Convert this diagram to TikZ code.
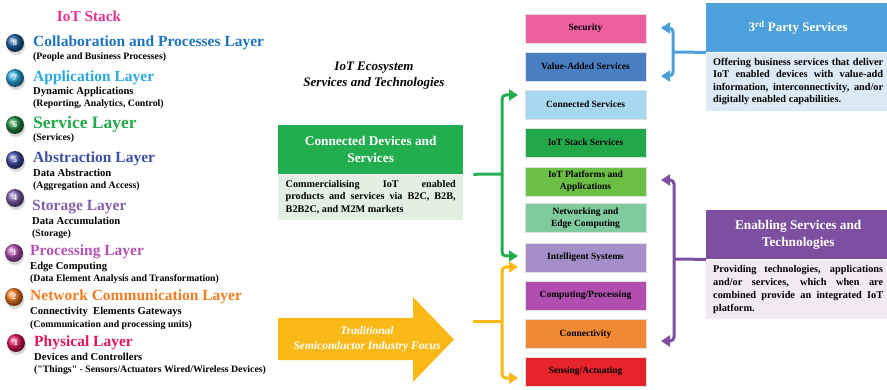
\documentclass[tikz,border=0pt]{standalone}
\usepackage{fontspec}
\setmainfont{Liberation Serif}[Ligatures=TeXOff]
\usetikzlibrary{arrows.meta,shadows,calc}
\hyphenpenalty=10000
\exhyphenpenalty=10000
\tolerance=3000
\definecolor{cStack}{HTML}{E4328D}
\definecolor{cL8}{HTML}{1E73BE}
\definecolor{cL7}{HTML}{2AA8E0}
\definecolor{cL6}{HTML}{23A84B}
\definecolor{cL5}{HTML}{3E4EA5}
\definecolor{cL4}{HTML}{8360AC}
\definecolor{cL3}{HTML}{B552B5}
\definecolor{cL2}{HTML}{F47B20}
\definecolor{cL1}{HTML}{E3165B}
\definecolor{cG}{HTML}{22AE4E}
\definecolor{cGl}{HTML}{E2F0E4}
\definecolor{cY}{HTML}{FBB917}
\definecolor{cB}{HTML}{4DA0DB}
\definecolor{cBl}{HTML}{DCEAF6}
\definecolor{cP}{HTML}{7D4FA0}
\definecolor{cPl}{HTML}{F2E9F2}
\definecolor{bSec}{HTML}{EC5FA0}
\definecolor{bVal}{HTML}{4A7EC2}
\definecolor{bCon}{HTML}{A8D8F0}
\definecolor{bStk}{HTML}{22A84A}
\definecolor{bPlt}{HTML}{6CBF45}
\definecolor{bNet}{HTML}{80CB9D}
\definecolor{bInt}{HTML}{A68FC8}
\definecolor{bCmp}{HTML}{B04FB0}
\definecolor{bCty}{HTML}{F08A35}
\definecolor{bSen}{HTML}{E8242B}
\begin{document}
\begin{tikzpicture}[x=1pt,y=-1pt,
  lt/.style={anchor=base west, inner sep=0pt, font=\bfseries\fontsize{15.5}{18}\selectfont},
  ls/.style={anchor=base west, inner sep=0pt, font=\bfseries\fontsize{10.6}{12}\selectfont},
  lp/.style={anchor=base west, inner sep=0pt, font=\bfseries\fontsize{9.8}{12}\selectfont},
  num/.style={circle, minimum size=18pt, inner sep=0pt, shading=ball, text=white,
    font=\bfseries\fontsize{8.5}{9}\selectfont,
    circular drop shadow={shadow xshift=0.6pt, shadow yshift=-2.2pt, opacity=0.3}},
  rb/.style={minimum width=121pt, minimum height=29pt, inner sep=1pt, align=center,
    font=\bfseries\fontsize{9.5}{11.7}\selectfont, draw=black!12, line width=0.8pt,
    drop shadow={shadow xshift=0.8pt, shadow yshift=-0.9pt, opacity=0.35}},
  brk/.style={line width=3pt, rounded corners=4pt},
  tip/.style={-{Triangle[length=9pt,width=11pt]}},
  hdr/.style={anchor=north west, minimum width=185pt, inner sep=0pt, text=white, align=center,
    font=\bfseries\fontsize{13.3}{16.5}\selectfont},
  bdy/.style={anchor=north west, text width=170pt, inner xsep=7.5pt, inner ysep=3pt, align=justify,
    font=\bfseries\fontsize{10.2}{12.8}\selectfont}
]
\useasboundingbox (0,0) rectangle (887,390);

% ---------------- IoT stack ----------------
\node[anchor=base, inner sep=0pt, text=cStack, font=\bfseries\fontsize{15.3}{18}\selectfont] (stack) at (89,22) {IoT Stack};

\node[num, ball color=cL8!85!black] (n8) at (15,43) {8};
\node[lt, text=cL8] (t8) at (33,47) {Collaboration and Processes Layer};
\node[lp] (s8a) at (33,60) {(People and Business Processes)};

\node[num, ball color=cL7] (n7) at (15,78) {7};
\node[lt, text=cL7] (t7) at (33,82) {Application Layer};
\node[ls] (s7a) at (33,95) {Dynamic Applications};
\node[lp] (s7b) at (33,107) {(Reporting, Analytics, Control)};

\node[num, ball color=cL6!85!black] (n6) at (15,125) {6};
\node[lt, text=cL6, font=\bfseries\fontsize{17.5}{20}\selectfont] (t6) at (33,129) {Service Layer};
\node[lp] (s6a) at (33,141) {(Services)};

\node[num, ball color=cL5] (n5) at (15,160) {5};
\node[lt, text=cL5] (t5) at (33,163) {Abstraction Layer};
\node[ls] (s5a) at (33,177) {Data Abstraction};
\node[lp] (s5b) at (33,189) {(Aggregation and Access)};

\node[num, ball color=cL4] (n4) at (15,198) {4};
\node[lt, text=cL4] (t4) at (32,211) {Storage Layer};
\node[ls] (s4a) at (32,225) {Data Accumulation};
\node[lp] (s4b) at (32,237) {(Storage)};

\node[num, ball color=cL3] (n3) at (14,253) {3};
\node[lt, text=cL3] (t3) at (30,256) {Processing Layer};
\node[ls] (s3a) at (30,270) {Edge Computing};
\node[lp] (s3b) at (30,282) {(Data Element Analysis and Transformation)};

\node[num, ball color=cL2] (n2) at (14,297) {2};
\node[lt, text=cL2] (t2) at (30,301) {Network Communication Layer};
\node[ls] (s2a) at (30,315) {Connectivity\ \ Elements Gateways};
\node[lp] (s2b) at (30,327) {(Communication and processing units)};

\node[num, ball color=cL1] (n1) at (16,343) {1};
\node[lt, text=cL1] (t1) at (34,346) {Physical Layer};
\node[ls] (s1a) at (34,360) {Devices and Controllers};
\node[lp] (s1b) at (34,372) {("Things" - Sensors/Actuators Wired/Wireless Devices)};

% ---------------- middle ----------------
\node[align=center, inner sep=0pt, font=\bfseries\itshape\fontsize{13}{16}\selectfont] (eco) at (374,76) {IoT Ecosystem\\Services and Technologies};

\node[hdr, fill=cG, minimum height=49pt] (cdsh) at (278,125) {Connected Devices and\\Services};
\node[bdy, fill=cGl, minimum height=45pt] (cdsb) at (cdsh.south west) {Commercialising IoT enabled\linebreak products and services via B2C, B2B, B2B2C, and M2M markets};

\fill[cY] (278,318) -- (413,318) -- (413,297) -- (454,339.5) -- (413,382) -- (413,360) -- (278,360) -- cycle;
\node[align=center, inner sep=0pt, text=white, font=\bfseries\itshape\fontsize{11.5}{15}\selectfont] (tsf) at (367,339) {Traditional\\Semiconductor Industry Focus};

% ---------------- right column ----------------
\node[rb, fill=bSec] (sec) at (585.5,28.5) {Security};
\node[rb, fill=bVal] (val) at (585.5,66.5) {Value-Added Services};
\node[rb, fill=bCon] (con) at (585.5,104.5) {Connected Services};
\node[rb, fill=bStk] (stk) at (585.5,142.5) {IoT Stack Services};
\node[rb, fill=bPlt] (plt) at (585.5,181.5) {IoT Platforms and\\Applications};
\node[rb, fill=bNet] (net) at (585.5,218) {Networking and\\Edge Computing};
\node[rb, fill=bInt] (int) at (585.5,257.5) {Intelligent Systems};
\node[rb, fill=bCmp] (cmp) at (585.5,295.5) {Computing/Processing};
\node[rb, fill=bCty] (cty) at (585.5,334) {Connectivity};
\node[rb, fill=bSen] (sen) at (585.5,371.5) {Sensing/Actuating};

% ---------------- right boxes ----------------
\node[hdr, fill=cB, minimum width=184pt, minimum height=49pt, font=\bfseries\fontsize{13}{16}\selectfont] (tph) at (706,3) {3\textsuperscript{rd} Party Services};
\node[bdy, fill=cBl, text width=170pt, inner xsep=7pt, minimum height=58pt, font=\bfseries\fontsize{10.3}{12.2}\selectfont] (tpb) at (tph.south west) {Offering business services that deliver IoT enabled devices with value-add information, interconnectivity, and/or digitally enabled capabilities.};

\node[hdr, fill=cP, minimum width=184pt, minimum height=49pt] (esh) at (706,210) {Enabling Services and\\Technologies};
\node[bdy, fill=cPl, text width=170pt, inner xsep=7pt, minimum height=59pt, font=\bfseries\fontsize{10.3}{13}\selectfont] (esb) at (esh.south west) {Providing technologies, applications and/or services, which when are combined provide an integrated IoT platform.};

% ---------------- brackets ----------------
\coordinate (gJ) at (502,174);
\coordinate (gT) at (518,95);
\coordinate (gB) at (518,256);
\draw[brk, cG, shorten <=10pt] (cdsh.south east) -- (gJ);
\draw[brk, cG, tip] (gJ) |- (gT);
\draw[brk, cG, tip] (gJ) |- (gB);

\coordinate (yS) at (473,322);
\coordinate (yJ) at (502,322);
\coordinate (yT) at (518,267);
\coordinate (yB) at (518,378);
\draw[brk, cY] (yS) -- (yJ);
\draw[brk, cY, tip] (yJ) |- (yT);
\draw[brk, cY, tip] (yJ) |- (yB);

\coordinate (bJ) at (673,52);
\coordinate (bT) at (661,28);
\coordinate (bB) at (661,76);
\draw[brk, cB] (tph.south west) -- (bJ);
\draw[brk, cB, tip] (bJ) |- (bT);
\draw[brk, cB, tip] (bJ) |- (bB);

\coordinate (pJ) at (674,259);
\coordinate (pT) at (661,180);
\coordinate (pB) at (661,341);
\draw[brk, cP] (esh.south west) -- (pJ);
\draw[brk, cP, tip] (pJ) |- (pT);
\draw[brk, cP, tip] (pJ) |- (pB);
\end{tikzpicture}
\end{document}
